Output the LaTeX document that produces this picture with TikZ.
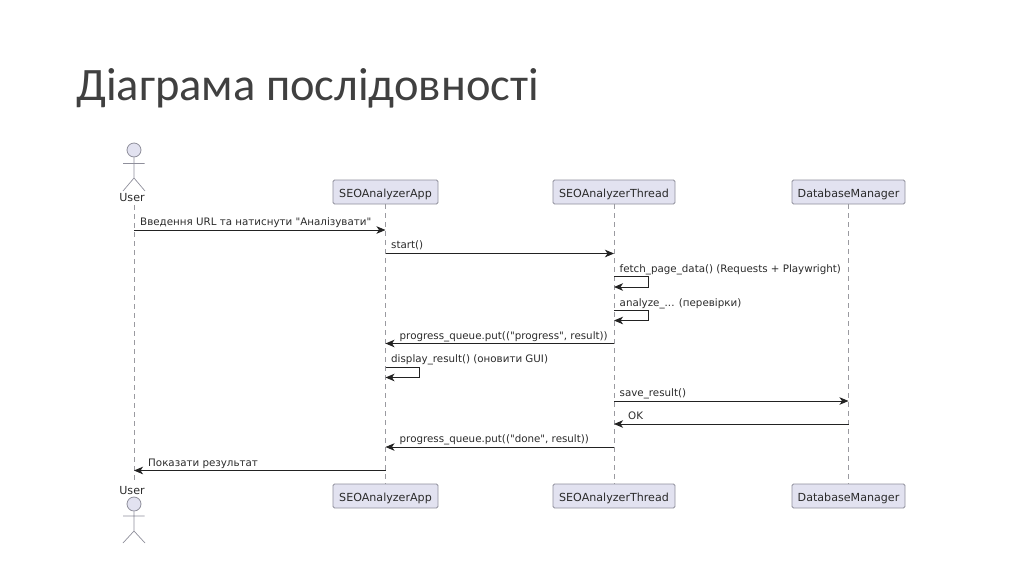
\documentclass[tikz,border=0pt]{standalone}
\usepackage{fontspec}
\newfontfamily\dejavu{DejaVu Sans}
\newfontfamily\titlefont{Carlito}
\usetikzlibrary{arrows.meta}
\definecolor{boxfill}{HTML}{E2E2F0}
\definecolor{boxline}{HTML}{8F8F9B}
\definecolor{lifecol}{HTML}{9A9AA0}
\definecolor{msgcol}{HTML}{222222}
\definecolor{txtcol}{HTML}{2A2A2A}
\tikzset{
  x=1pt,y=-1pt,
  partbox/.style={draw=boxline,line width=0.9pt,fill=boxfill,rounded corners=1.5pt,minimum height=24pt,inner sep=0pt,text height=10pt,text depth=0pt,font=\fontsize{11.1}{13}\selectfont\dejavu,text=txtcol,anchor=center},
  lifeline/.style={draw=lifecol,line width=0.8pt,dash pattern=on 4.5pt off 4.5pt},
  msg/.style={draw=msgcol,line width=0.9pt,-{Stealth[length=9pt,width=7.5pt,inset=2.5pt]}},
  msglabel/.style={font=\fontsize{10.3}{12}\selectfont\dejavu,text=txtcol,anchor=base west,inner sep=0pt},
  actorline/.style={draw=boxline,line width=0.7pt},
  actorhead/.style={draw=boxline,line width=0.8pt,fill=boxfill,circle,minimum size=14pt,inner sep=0pt},
  actorlabel/.style={font=\fontsize{11.1}{13}\selectfont\dejavu,text=txtcol,inner sep=0pt,anchor=center}
}
\begin{document}
\begin{tikzpicture}
\useasboundingbox (0,0) rectangle (1024,574);
\node[anchor=base west,inner sep=0pt,font=\fontsize{46.5}{52}\selectfont\titlefont,text=black!75] (title) at (76,100) {Діаграма послідовності};

% participants
\node[actorlabel] (utop) at (132,198) {User};
\node[actorlabel] (ubot) at (132,491) {User};
\node[partbox,minimum width=105pt] (atop) at (385.5,192) {SEOAnalyzerApp};
\node[partbox,minimum width=122pt] (ttop) at (614,192) {SEOAnalyzerThread};
\node[partbox,minimum width=113pt] (dtop) at (848.5,192) {DatabaseManager};
\node[partbox,minimum width=105pt] (abot) at (385.5,496) {SEOAnalyzerApp};
\node[partbox,minimum width=122pt] (tbot) at (614,496) {SEOAnalyzerThread};
\node[partbox,minimum width=113pt] (dbot) at (848.5,496) {DatabaseManager};

% lifelines
\coordinate (ultop) at (134,205); \coordinate (ulbot) at (134,483);
\draw[lifeline] (ultop) -- (ulbot);
\draw[lifeline] (atop) -- (abot);
\draw[lifeline] (ttop) -- (tbot);
\draw[lifeline] (dtop) -- (dbot);

% actors
\node[actorhead] (h1) at (134,150) {};
\coordinate (a1l) at (123,163.5); \coordinate (a1r) at (144.5,163.5);
\coordinate (b1) at (134,178); \coordinate (l1l) at (123,191); \coordinate (l1r) at (145,191);
\draw[actorline] (h1) -- (b1) (a1l) -- (a1r) (l1l) -- (b1) -- (l1r);
\node[actorhead] (h2) at (134,504) {};
\coordinate (a2l) at (123,516); \coordinate (a2r) at (144.5,516);
\coordinate (b2) at (134,531); \coordinate (l2l) at (123,543); \coordinate (l2r) at (145,543);
\draw[actorline] (h2) -- (b2) (a2l) -- (a2r) (l2l) -- (b2) -- (l2r);

% message ends
\coordinate (m1a) at (134,230);   \coordinate (m1b) at (385.5,230);
\coordinate (m2a) at (385.5,253.5); \coordinate (m2b) at (614,253.5);
\coordinate (m3a) at (614,276.5); \coordinate (m3c) at (648,276.5); \coordinate (m3d) at (648,287); \coordinate (m3b) at (614,287);
\coordinate (m4a) at (614,310); \coordinate (m4c) at (648,310); \coordinate (m4d) at (648,320.5); \coordinate (m4b) at (614,320.5);
\coordinate (m5a) at (614,343.5); \coordinate (m5b) at (385.5,343.5);
\coordinate (m6a) at (385.5,367); \coordinate (m6c) at (419,367); \coordinate (m6d) at (419,377.5); \coordinate (m6b) at (385.5,377.5);
\coordinate (m7a) at (614,401); \coordinate (m7b) at (848.5,401);
\coordinate (m8a) at (848.5,424); \coordinate (m8b) at (614,424);
\coordinate (m9a) at (614,447); \coordinate (m9b) at (385.5,447);
\coordinate (m10a) at (385.5,470.5); \coordinate (m10b) at (134,470.5);

\draw[msg] (m1a) -- (m1b);
\draw[msg] (m2a) -- (m2b);
\draw[msg] (m3a) -- (m3c) -- (m3d) -- (m3b);
\draw[msg] (m4a) -- (m4c) -- (m4d) -- (m4b);
\draw[msg] (m5a) -- (m5b);
\draw[msg] (m6a) -- (m6c) -- (m6d) -- (m6b);
\draw[msg] (m7a) -- (m7b);
\draw[msg] (m8a) -- (m8b);
\draw[msg] (m9a) -- (m9b);
\draw[msg] (m10a) -- (m10b);

% message labels
\node[msglabel] (t1) at (140,225) {Введення URL та натиснути "Аналізувати"};
\node[msglabel] (t2) at (391,248) {start()};
\node[msglabel] (t3) at (619.5,272.5) {fetch\_page\_data() (Requests + Playwright)};
\node[msglabel] (t4) at (619.5,306) {analyze\_... (перевірки)};
\node[msglabel] (t5) at (399.5,339) {progress\_queue.put(("progress", result))};
\node[msglabel] (t6) at (391,362.5) {display\_result() (оновити GUI)};
\node[msglabel] (t7) at (619.5,396.5) {save\_result()};
\node[msglabel] (t8) at (628,419.5) {OK};
\node[msglabel] (t9) at (399.5,442.5) {progress\_queue.put(("done", result))};
\node[msglabel] (t10) at (148,466) {Показати результат};
\end{tikzpicture}
\end{document}
